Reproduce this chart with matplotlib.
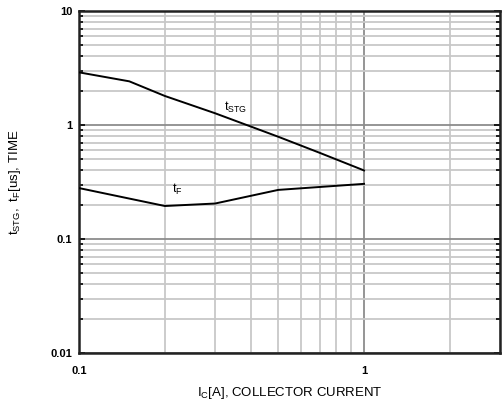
import numpy as np
import matplotlib
matplotlib.use("Agg")
import matplotlib.pyplot as plt
from matplotlib.ticker import LogLocator, NullFormatter, FixedLocator, FixedFormatter

# ── data ─────────────────────────────────────────────────────────────────────
ic_stg = [0.1, 0.15, 0.2, 0.3, 0.5, 0.7, 1.0]
t_stg = [2.9, 2.42, 1.8, 1.27, 0.79, 0.57, 0.40]

ic_f = [0.1, 0.2, 0.3, 0.5, 1.0]
t_f = [0.28, 0.195, 0.205, 0.27, 0.305]

x_ticks = [0.1, 1]
x_tick_labels = ["0.1", "1"]
y_ticks = [0.01, 0.1, 1, 10]
y_tick_labels = ["0.01", "0.1", "1", "10"]

FONT = ["Liberation Sans", "DejaVu Sans"]
plt.rcParams["font.family"] = FONT
plt.rcParams["mathtext.fontset"] = "custom"
plt.rcParams["mathtext.rm"] = "Liberation Sans"

fig = plt.figure(figsize=(5.04, 4.11), dpi=100, facecolor="white")
ax = fig.add_axes([0.157, 0.141, 0.835, 0.832])

ax.set_xscale("log")
ax.set_yscale("log")
ax.set_xlim(0.1, 3)
ax.set_ylim(0.01, 10)

# grid: light minor, darker major
ax.grid(True, which="minor", color="#c8c8c8", linewidth=1.3, zorder=0)
ax.grid(True, which="major", color="#8c8c8c", linewidth=1.3, zorder=0)
ax.set_axisbelow(True)

ax.plot(ic_stg, t_stg, color="black", linewidth=1.4, zorder=3)
ax.plot(ic_f, t_f, color="black", linewidth=1.4, zorder=3)

ax.text(0.323, 1.44, r"$\mathregular{t_{STG}}$", fontsize=9, ha="left", va="center")
ax.text(0.212, 0.27, r"$\mathregular{t_{F}}$", fontsize=9, ha="left", va="center")

# ticks
ax.xaxis.set_major_locator(FixedLocator(x_ticks))
ax.xaxis.set_major_formatter(FixedFormatter(x_tick_labels))
ax.xaxis.set_minor_locator(LogLocator(base=10, subs=np.arange(2, 10)))
ax.xaxis.set_minor_formatter(NullFormatter())
ax.yaxis.set_major_locator(FixedLocator(y_ticks))
ax.yaxis.set_major_formatter(FixedFormatter(y_tick_labels))
ax.yaxis.set_minor_locator(LogLocator(base=10, subs=np.arange(2, 10)))
ax.yaxis.set_minor_formatter(NullFormatter())

ax.tick_params(axis="both", which="both", direction="in", width=1.2,
               labelsize=8, colors="black")
ax.tick_params(axis="y", which="both", left=True, right=True, pad=5)
ax.tick_params(axis="y", which="major", length=4)
ax.tick_params(axis="y", which="minor", length=3)
ax.tick_params(axis="x", which="both", length=0, pad=9)
for lbl in ax.get_xticklabels() + ax.get_yticklabels():
    lbl.set_fontweight("bold")

for sp in ax.spines.values():
    sp.set_linewidth(1.8)
    sp.set_color("#222222")

ax.set_xlabel(r"$\mathregular{I_{C}}$[A], COLLECTOR CURRENT", fontsize=9.5, labelpad=7)
ax.set_ylabel(r"$\mathregular{t_{STG},\ t_{F}}$[us], TIME", fontsize=9.5, labelpad=20)

plt.savefig("out.png", dpi=100, facecolor="white")
